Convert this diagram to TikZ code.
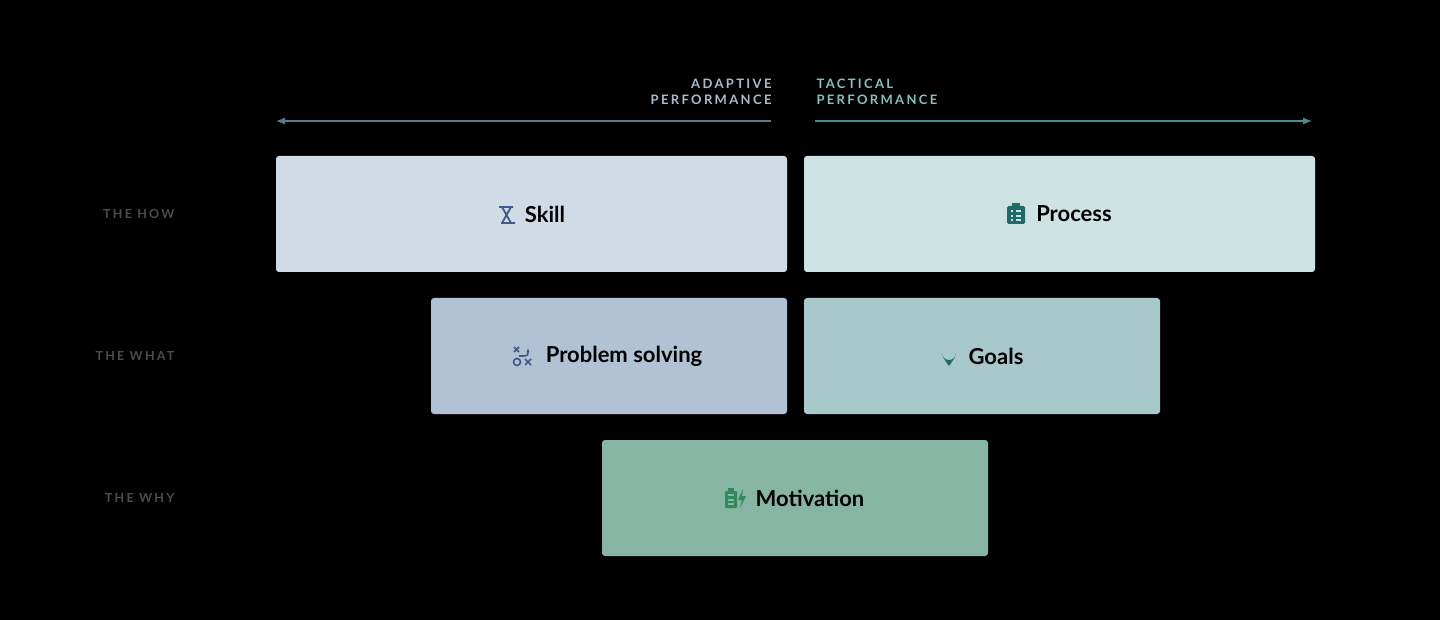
\documentclass[tikz,border=0pt]{standalone}
\usepackage{fontspec}
\setmainfont{Lato}
\usetikzlibrary{positioning, arrows.meta}
\definecolor{skillfill}{HTML}{D0DCE5}
\definecolor{procfill}{HTML}{CDE2E3}
\definecolor{probfill}{HTML}{B0C2D3}
\definecolor{goalfill}{HTML}{A8C9CA}
\definecolor{motifill}{HTML}{86B5A3}
\definecolor{adaptcol}{HTML}{A9BBCC}
\definecolor{tactcol}{HTML}{84C2C2}
\definecolor{adaptline}{HTML}{5A7A90}
\definecolor{tactline}{HTML}{4A8C8C}
\definecolor{rowcol}{HTML}{4C4C4C}
\definecolor{blueicon}{HTML}{3F5A8A}
\definecolor{tealicon}{HTML}{1F6B6B}
\definecolor{greenicon}{HTML}{2E8A5E}
\newfontfamily\spaced[LetterSpace=18]{Lato}

\begin{document}
\begin{tikzpicture}[
    x=1pt, y=-1pt,
    block/.style={rounded corners=3pt, draw=none},
    label/.style={font=\fontsize{22}{24}\selectfont\bfseries, text=black},
    rowlabel/.style={font=\spaced\fontsize{12.5}{14}\selectfont\bfseries, text=rowcol, anchor=east},
    header/.style={font=\spaced\fontsize{13}{15.5}\selectfont\bfseries, align=left},
    axis/.style={line width=1.2pt, -{Latex[length=9pt,width=7pt]}}
]
   \fill[black] (0,0) rectangle (1440,620);

   % Blocks
   \fill[block, skillfill] (276,156) rectangle (787,272);
   \fill[block, procfill] (804,156) rectangle (1315,272);
   \fill[block, probfill] (431,298) rectangle (787,414);
   \fill[block, goalfill] (804,298) rectangle (1160,414);
   \fill[block, motifill] (602,440) rectangle (988,556);

   % Block labels
   \node[label] (skill) at (545,214) {Skill};
   \node[label] (process) at (1074,214) {Process};
   \node[label] (problem) at (624,356) {Problem solving};
   \node[label] (goals) at (996,356) {Goals};
   \node[label] (motivation) at (810,498) {Motivation};

   % Icons
   \begin{scope}[blueicon, line width=1.8pt]
      \draw (499,207) -- (513,207) (501,223) -- (515,223)
            (502,207) -- (511,223) (511,207) -- (502,223);
   \end{scope}
   \fill[tealicon, rounded corners=1.5pt] (1007,206) rectangle (1025,224);
   \fill[tealicon] (1012,203) rectangle (1020,208);
   \draw[procfill, line width=1.2pt] (1011,211) -- (1013,211) (1016,211) -- (1021,211)
        (1011,216) -- (1013,216) (1016,216) -- (1021,216)
        (1011,220) -- (1013,220) (1016,220) -- (1021,220);
   \begin{scope}[blueicon, line width=1.6pt]
      \draw (514,347) -- (519,352) (519,347) -- (514,352);
      \draw (517,362) circle (3.5pt);
      \draw (525,359) -- (531,365) (531,359) -- (525,365);
      \draw[-{Latex[length=4pt]}] (519,356) .. controls (528,356) .. (528,348);
   \end{scope}
   \fill[tealicon] (949,366) .. controls (943,358) and (942,355) .. (942,353)
        arc[start angle=180, end angle=0, radius=7] .. controls (956,355) and (955,358) .. (949,366);
   \fill[goalfill] (949,353) circle (2.5pt);
   \fill[greenicon, rounded corners=1pt] (725,491) rectangle (737,508);
   \fill[greenicon] (728,488) rectangle (734,491);
   \draw[motifill, line width=1.2pt] (728,495) -- (734,495) (728,500) -- (734,500) (728,504) -- (734,504);
   \fill[greenicon] (743,489) -- (738,500) -- (742,500) -- (740,508) -- (746,496) -- (742,496) -- cycle;

   % Row labels
   \node[rowlabel] (how) at (178,214) {THE HOW};
   \node[rowlabel] (what) at (178,356) {THE WHAT};
   \node[rowlabel] (why) at (178,498) {THE WHY};

   % Headers and axis
   \node[header, text=adaptcol, align=right, anchor=south east] (adaptive) at (775,108) {ADAPTIVE\\PERFORMANCE};
   \node[header, text=tactcol, anchor=south west] (tactical) at (813,108) {TACTICAL\\PERFORMANCE};
   \coordinate (leftend) at (276,121);
   \coordinate (rightend) at (1312,121);
   \draw[axis, adaptline] (771,121) -- (leftend);
   \draw[axis, tactline] (815,121) -- (rightend);
\end{tikzpicture}
\end{document}
